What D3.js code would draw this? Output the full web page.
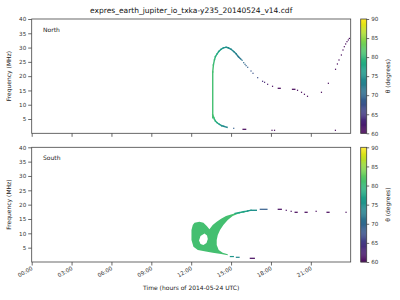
<!DOCTYPE html>
<html>
<head>
<meta charset="utf-8">
<script src="https://cdn.jsdelivr.net/npm/d3@7"></script>
<style>
  body { margin: 0; background: #fff; }
  svg { font-family: "DejaVu Sans", sans-serif; }
</style>
</head>
<body>
<svg id="chart" width="400" height="300"></svg>
<script>
// ---- data (time in hours, frequency in MHz, theta in degrees) ----
const timeTicks = [0, 3, 6, 9, 12, 15, 18, 21];
const timeTickLabels = ["00:00", "03:00", "06:00", "09:00", "12:00", "15:00", "18:00", "21:00"];
const freqTicks = [5, 10, 15, 20, 25, 30, 35, 40];
const thetaTicks = [60, 65, 70, 75, 80, 85, 90];

// North: continuous upper arc [t, f, theta]
const northArc = [
  [13.62, 5.4, 81], [13.62, 21.5, 81], [13.67, 23.9, 80.5], [13.75, 25.7, 80],
  [13.82, 26.8, 79], [13.95, 27.8, 78], [14.07, 28.6, 77], [14.25, 29.4, 76],
  [14.42, 29.9, 75.5], [14.62, 30.1, 75], [14.80, 29.9, 74.5], [15.0, 29.4, 74],
  [15.2, 28.6, 73.5], [15.38, 27.8, 73], [15.55, 26.8, 72], [15.75, 25.9, 71.5]
];
// North: lower branch
const northLower = [
  [13.62, 6.4, 81], [13.7, 5.46, 80.5], [13.75, 4.9, 80], [13.82, 4.3, 79],
  [13.95, 3.71, 78], [14.12, 3.15, 76], [14.3, 2.66, 75], [14.45, 2.45, 74],
  [14.7, 2.1, 73]
];
// North: isolated cells [t0, t1, f, theta]
const northDots = [
  [15.83, 15.83, 25.55, 71], [15.95, 15.95, 24.71, 70.5], [16.05, 16.05, 24.15, 70],
  [16.13, 16.13, 23.66, 69.5], [16.25, 16.25, 23.1, 69], [16.5, 16.5, 21.8, 68],
  [16.65, 16.65, 21.0, 67.5], [17.0, 17.0, 19.46, 67], [17.37, 17.37, 18.2, 64],
  [17.52, 17.52, 17.85, 63], [17.75, 17.75, 17.15, 62], [18.12, 18.12, 16.45, 61],
  [18.55, 18.7, 15.75, 60.5], [19.62, 19.8, 15.4, 60.5], [20.0, 20.0, 15.05, 60.5],
  [20.3, 20.3, 14.35, 60.5], [20.52, 20.52, 13.65, 60.5], [20.75, 20.75, 12.95, 60.5],
  [21.8, 21.8, 14.35, 60.5], [22.32, 22.32, 17.5, 60.5], [22.86, 22.86, 22.4, 60.5],
  [23.0, 23.0, 24.26, 60.5], [23.12, 23.12, 25.66, 60.5], [23.3, 23.3, 27.4, 60.5],
  [23.42, 23.42, 29.15, 60.5], [23.52, 23.52, 30.3, 60.5], [23.62, 23.62, 31.26, 60.5],
  [23.72, 23.72, 32.06, 60.5], [23.82, 23.82, 32.66, 60.5], [23.9, 23.9, 33.2, 60.5],
  [15.2, 15.2, 1.75, 69], [15.9, 16.1, 1.4, 60.5], [18.08, 18.08, 1.05, 60.5],
  [18.27, 18.27, 1.05, 60.5], [22.85, 22.85, 1.05, 60.5]
];

// South: filled emission region outline [t, f] and hole
const southBlob = [
  [12.25, 13.71], [12.62, 14.06], [12.92, 13.71], [13.17, 12.56], [13.37, 11.41],
  [13.62, 12.91], [13.92, 14.06], [14.25, 15.10], [14.62, 16.04], [15.12, 16.74],
  [15.62, 17.34], [16.12, 17.79], [16.5, 18.03], [16.12, 17.44], [15.62, 16.99],
  [15.12, 16.04], [14.75, 14.65], [14.42, 12.91], [14.17, 11.16], [14.0, 9.42],
  [13.92, 7.67], [13.92, 5.93], [14.07, 4.19], [14.37, 3.24], [14.75, 2.69],
  [14.75, 2.34], [14.25, 2.79], [13.62, 3.24], [13.0, 3.73], [12.5, 4.19],
  [12.17, 5.34], [12.02, 7.67], [12.02, 11.16], [12.12, 12.91]
];
const southHole = [
  [13.0, 9.94], [13.19, 9.24], [13.25, 8.02], [13.15, 6.63], [12.92, 5.93],
  [12.70, 6.28], [12.59, 7.50], [12.70, 9.07]
];
const southBlobTheta = 81;
// South: arm end, coloured cells
const southArm = [
  [15.3, 16.9, 78], [15.62, 17.2, 77.5], [15.95, 17.55, 77], [16.25, 17.8, 76],
  [16.5, 18.03, 75], [16.9, 18.03, 75]
];
const southDots = [
  [17.2, 17.7, 18.38, 69], [18.55, 18.78, 18.38, 61], [19.15, 19.15, 18.03, 61],
  [19.52, 19.52, 17.68, 61], [19.82, 19.97, 17.34, 60.5], [20.57, 20.72, 17.34, 60.5],
  [21.4, 21.4, 17.68, 60.5], [22.22, 22.37, 17.34, 60.5], [23.65, 23.65, 17.34, 60.5],
  [14.95, 15.17, 1.9, 76], [15.4, 15.6, 1.64, 74], [16.45, 16.75, 1.29, 61]
];

// ---- layout ----
const svg = d3.select("#chart");
const x = d3.scaleLinear().domain([0, 24]).range([31.7, 350.7]);
const panels = [
  { name: "North", top: 19, bottom: 133.3, labels: false },
  { name: "South", top: 147.3, bottom: 262, labels: true }
];
const color = t => d3.interpolateViridis((t - 60) / 30);
const axisCol = "#444";

panels.forEach((p, i) => {
  p.y = d3.scaleLinear().domain([0, 40]).range([p.bottom, p.top]);
  p.g = svg.append("g");
});

function drawLine(g, y, pts) {
  for (let i = 0; i < pts.length - 1; i++) {
    g.append("line")
      .attr("x1", x(pts[i][0])).attr("y1", y(pts[i][1]))
      .attr("x2", x(pts[i + 1][0])).attr("y2", y(pts[i + 1][1]))
      .attr("stroke", color(pts[i][2]))
      .attr("stroke-width", 1.4)
      .attr("stroke-linecap", "square");
  }
}

function drawDots(g, y, dots) {
  g.selectAll(null).data(dots).enter().append("rect")
    .attr("x", d => x(d[0]) - 0.6)
    .attr("y", d => y(d[2]) - 0.6)
    .attr("width", d => x(d[1]) - x(d[0]) + 1.2)
    .attr("height", 1.2)
    .attr("fill", d => color(d[3]));
}

// North data
{
  const p = panels[0];
  drawLine(p.g, p.y, northArc);
  drawLine(p.g, p.y, northLower);
  drawDots(p.g, p.y, northDots);
}
// South data
{
  const p = panels[1];
  const line = d3.line().x(d => x(d[0])).y(d => p.y(d[1]));
  p.g.append("path")
    .attr("d", line(southBlob) + "Z" + line(southHole) + "Z")
    .attr("fill", color(southBlobTheta))
    .attr("fill-rule", "evenodd");
  drawLine(p.g, p.y, southArm);
  drawDots(p.g, p.y, southDots);
}

// axes
panels.forEach(p => {
  const g = svg.append("g");
  const yAx = g.append("g").attr("transform", `translate(${x(0)},0)`)
    .call(d3.axisLeft(p.y).tickValues(freqTicks).tickSize(3.5).tickPadding(2));
  const xAx = g.append("g").attr("transform", `translate(0,${p.bottom})`)
    .call(d3.axisBottom(x).tickValues(timeTicks).tickSize(3.5)
      .tickFormat((d, i) => p.labels ? timeTickLabels[i] : ""));
  [yAx, xAx].forEach(a => {
    a.select(".domain").remove();
    a.selectAll("line").attr("stroke", axisCol).attr("stroke-width", 0.8);
    a.selectAll("text").attr("fill", "#333").attr("font-size", 5.6)
      .attr("font-family", "DejaVu Sans");
  });
  xAx.selectAll("text")
    .attr("text-anchor", "end")
    .attr("dy", null).attr("y", 0)
    .attr("transform", "translate(1,7.5) rotate(-30)");
  g.append("rect")
    .attr("x", x(0)).attr("y", p.top)
    .attr("width", x(24) - x(0)).attr("height", p.bottom - p.top)
    .attr("fill", "none").attr("stroke", axisCol).attr("stroke-width", 0.8);
  g.append("text")
    .attr("x", 43).attr("y", p.top + 12.5)
    .attr("font-size", 6).attr("fill", "#222")
    .text(p.name);
  g.append("text")
    .attr("transform", `translate(10.5,${(p.top + p.bottom) / 2}) rotate(-90)`)
    .attr("text-anchor", "middle")
    .attr("font-size", 6).attr("fill", "#222")
    .text("Frequency (MHz)");

  // colorbar
  const cy = d3.scaleLinear().domain([60, 90]).range([p.bottom, p.top]);
  const cb = svg.append("g");
  const steps = d3.range(60, 90, 0.25);
  cb.selectAll(null).data(steps).enter().append("rect")
    .attr("x", 360.7).attr("width", 6)
    .attr("y", d => cy(d + 0.25))
    .attr("height", d => cy(d) - cy(d + 0.25) + 0.3)
    .attr("fill", d => color(d + 0.125));
  cb.append("rect")
    .attr("x", 360.7).attr("y", p.top).attr("width", 6).attr("height", p.bottom - p.top)
    .attr("fill", "none").attr("stroke", axisCol).attr("stroke-width", 0.8);
  const cAx = cb.append("g").attr("transform", "translate(366.7,0)")
    .call(d3.axisRight(cy).tickValues(thetaTicks).tickSize(2.5).tickPadding(2));
  cAx.select(".domain").remove();
  cAx.selectAll("line").attr("stroke", axisCol).attr("stroke-width", 0.8);
  cAx.selectAll("text").attr("fill", "#333").attr("font-size", 5.6)
    .attr("font-family", "DejaVu Sans");
  cb.append("text")
    .attr("transform", `translate(390,${(p.top + p.bottom) / 2}) rotate(-90)`)
    .attr("text-anchor", "middle")
    .attr("font-size", 6).attr("fill", "#222")
    .text("θ (degrees)");
});

svg.append("text")
  .attr("x", x(12)).attr("y", 13)
  .attr("text-anchor", "middle")
  .attr("font-size", 7.5).attr("fill", "#111")
  .text("expres_earth_jupiter_io_txka-y235_20140524_v14.cdf");

svg.append("text")
  .attr("x", x(12)).attr("y", 290)
  .attr("text-anchor", "middle")
  .attr("font-size", 6).attr("fill", "#222")
  .text("Time (hours of 2014-05-24 UTC)");
</script>
</body>
</html>
